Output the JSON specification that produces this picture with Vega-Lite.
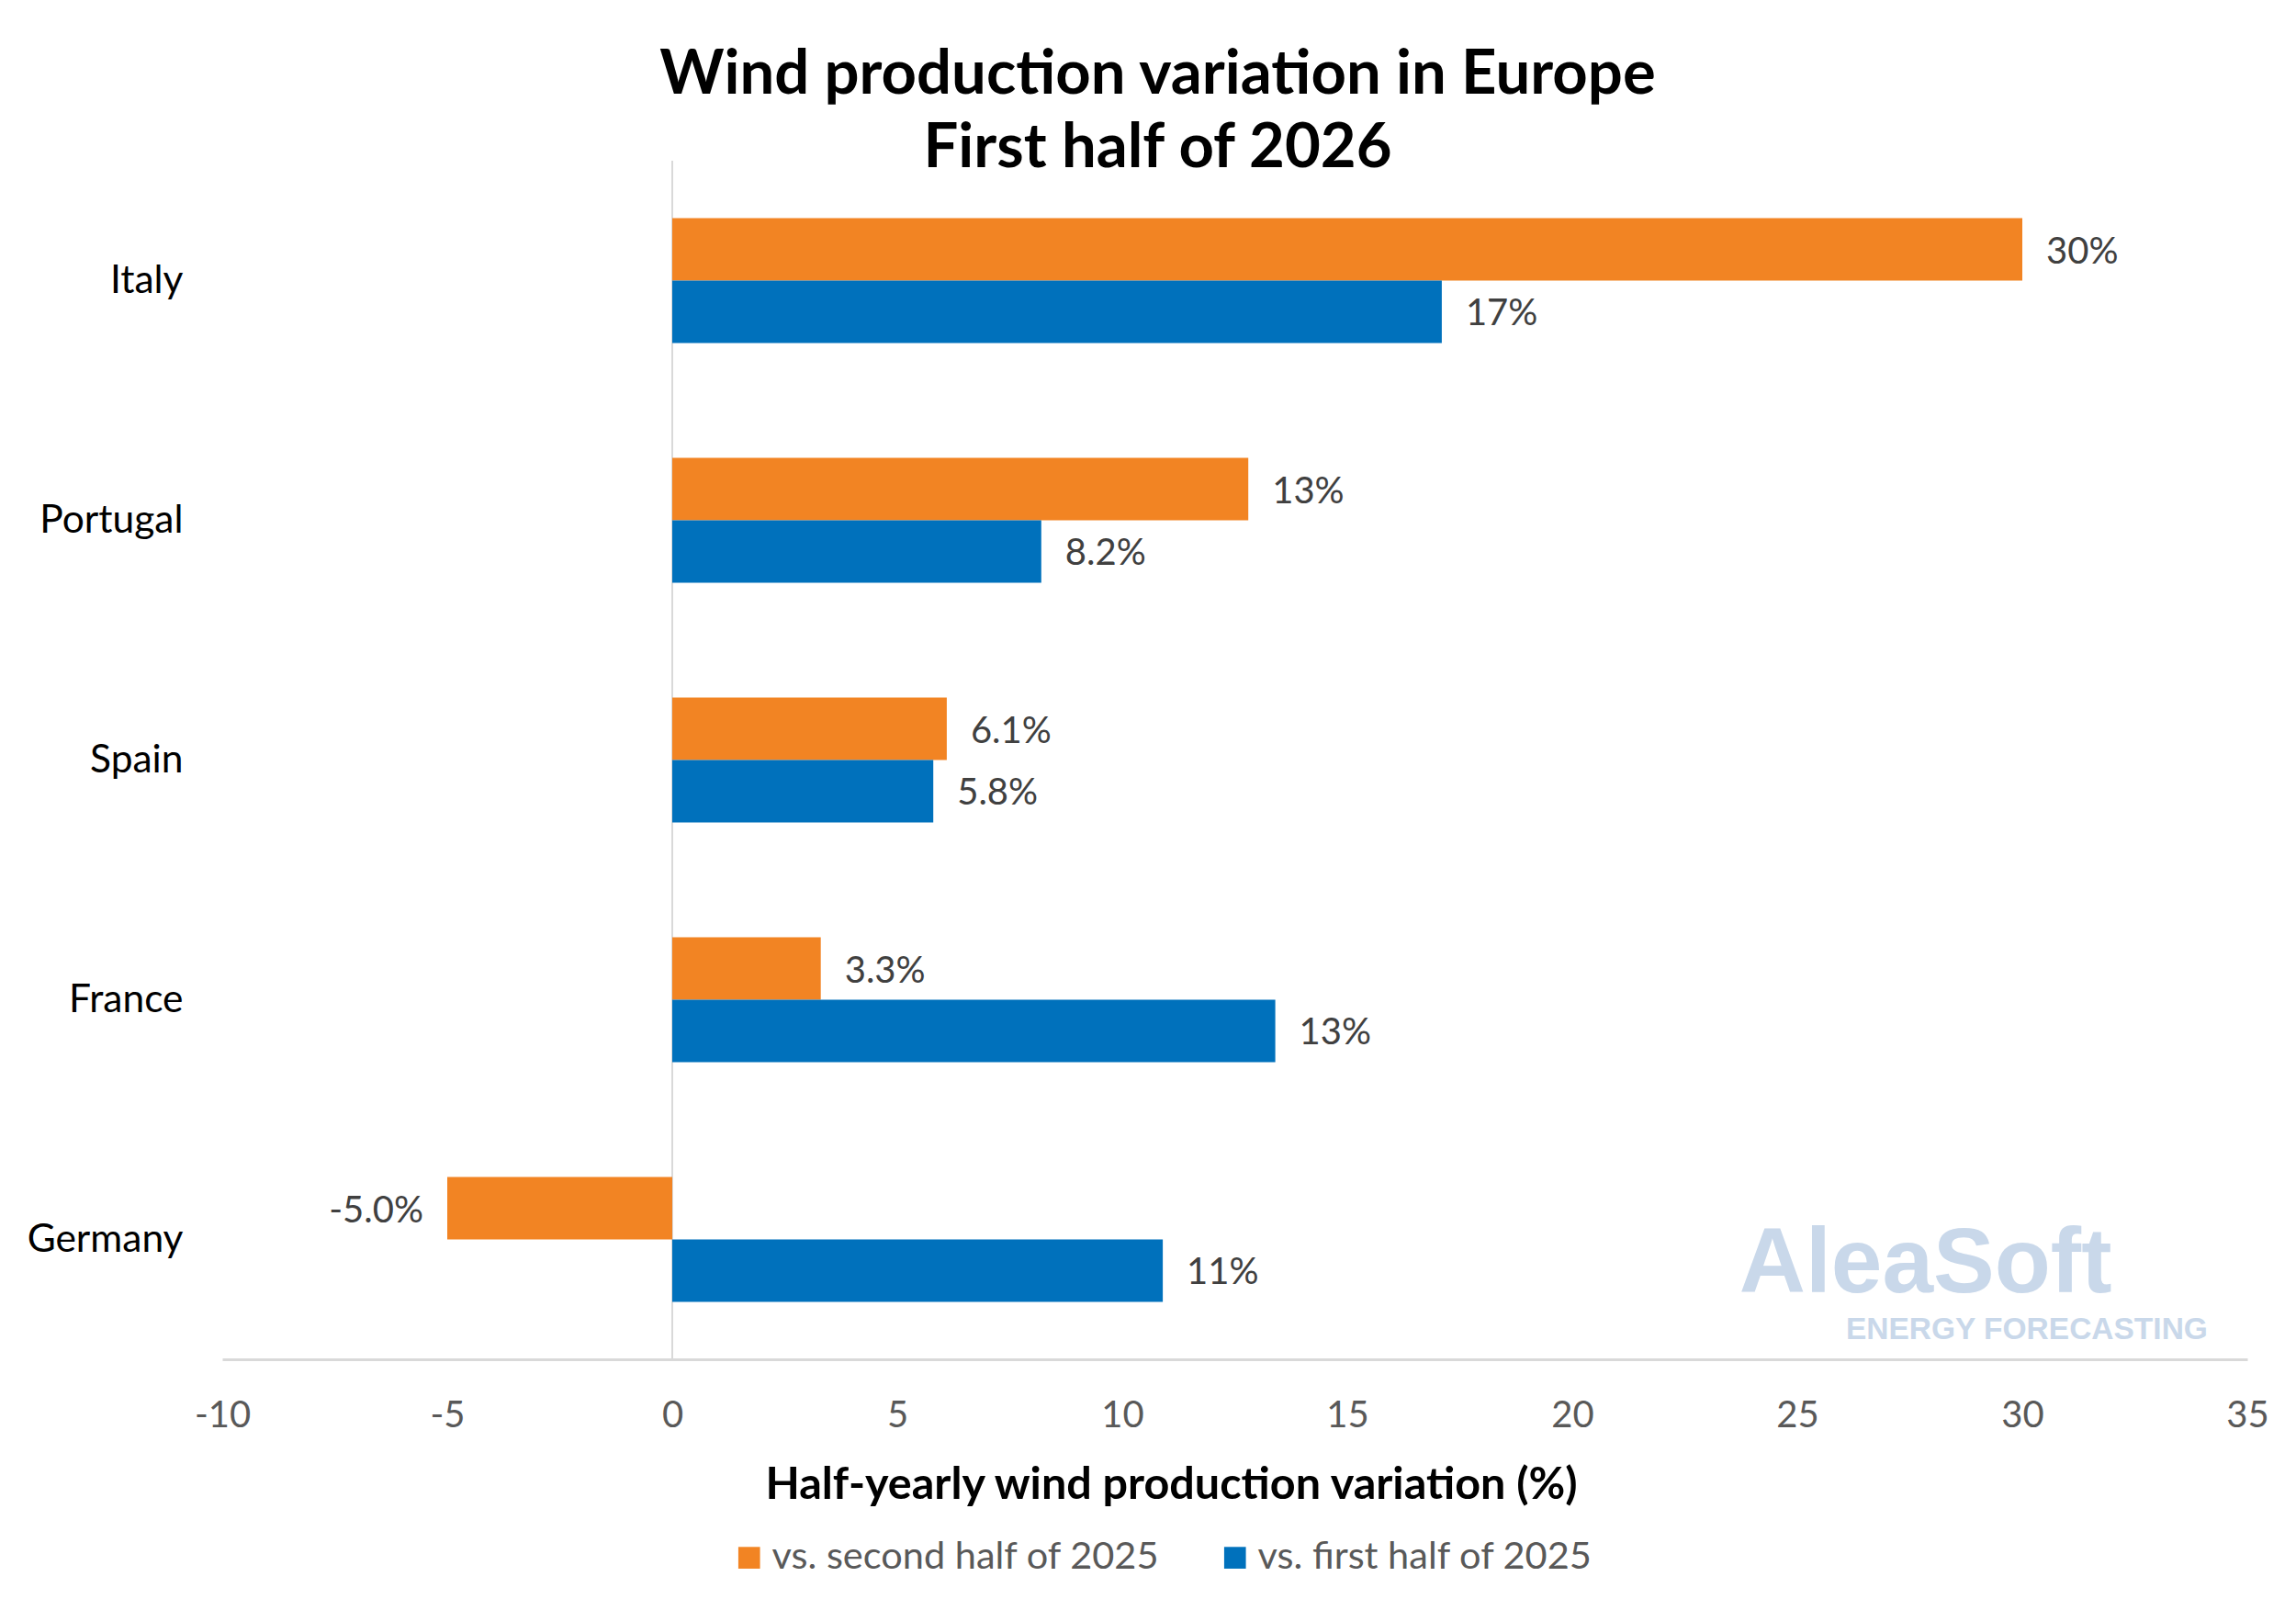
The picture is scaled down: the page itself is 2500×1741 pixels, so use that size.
{
  "$schema": "https://vega.github.io/schema/vega-lite/v6.json",
  "width": 2205,
  "height": 1305,
  "autosize": {"type": "none"},
  "padding": {"left": 242, "top": 175, "right": 53, "bottom": 261},
  "background": "white",
  "title": {
    "text": ["Wind production variation in Europe", "First half of 2026"],
    "font": "Lato",
    "fontSize": 67,
    "fontWeight": "bold",
    "color": "#000000",
    "lineHeight": 80,
    "anchor": "middle",
    "frame": "group",
    "dx": -84,
    "offset": -22
  },
  "data": {
    "values": [
      {"country": "Italy", "series": "vs. second half of 2025", "change": 30.0},
      {"country": "Italy", "series": "vs. first half of 2025", "change": 17.1},
      {"country": "Portugal", "series": "vs. second half of 2025", "change": 12.8},
      {"country": "Portugal", "series": "vs. first half of 2025", "change": 8.2},
      {"country": "Spain", "series": "vs. second half of 2025", "change": 6.1},
      {"country": "Spain", "series": "vs. first half of 2025", "change": 5.8},
      {"country": "France", "series": "vs. second half of 2025", "change": 3.3},
      {"country": "France", "series": "vs. first half of 2025", "change": 13.4},
      {"country": "Germany", "series": "vs. second half of 2025", "change": -5.0},
      {"country": "Germany", "series": "vs. first half of 2025", "change": 10.9}
    ]
  },
  "transform": [
    {"calculate": "replace(format(datum.change, '.2r'), '\u2212', '-') + '%'", "as": "label"}
  ],
  "layer": [
    {
      "mark": {"type": "rule", "color": "#d9d9d9", "strokeWidth": 2},
      "encoding": {"x": {"datum": 0, "type": "quantitative"}}
    },
    {
      "mark": {"type": "bar"},
      "encoding": {
        "y": {
          "field": "country",
          "type": "nominal",
          "sort": ["Italy", "Portugal", "Spain", "France", "Germany"],
          "scale": {"paddingInner": 0.479, "paddingOuter": 0.2395},
          "axis": {
            "title": null,
            "domain": false,
            "ticks": false,
            "tickSize": 0,
            "labelFont": "Lato",
            "labelFontSize": 42.5,
            "labelColor": "#000000",
            "labelPadding": 43
          }
        },
        "yOffset": {
          "field": "series",
          "type": "nominal",
          "sort": ["vs. second half of 2025", "vs. first half of 2025"],
          "scale": {"paddingInner": 0, "paddingOuter": 0}
        },
        "x": {
          "field": "change",
          "type": "quantitative",
          "scale": {"domain": [-10, 35], "nice": false, "zero": false},
          "axis": {
            "values": [-10, -5, 0, 5, 10, 15, 20, 25, 30, 35],
            "labelExpr": "replace(datum.label, '\u2212', '-')",
            "grid": false,
            "ticks": false,
            "tickSize": 0,
            "domainColor": "#d9d9d9",
            "domainWidth": 3,
            "labelFont": "Lato",
            "labelFontSize": 40,
            "labelColor": "#595959",
            "labelBaseline": "middle",
            "labelPadding": 61,
            "labelFlush": false,
            "title": "Half-yearly wind production variation (%)",
            "titleFont": "Lato",
            "titleFontSize": 48.5,
            "titleFontWeight": "bold",
            "titleColor": "#000000",
            "titleAnchor": null,
            "titleAlign": "center",
            "titleBaseline": "middle",
            "titleX": 1033,
            "titleY": 136
          }
        },
        "color": {
          "field": "series",
          "type": "nominal",
          "sort": ["vs. second half of 2025", "vs. first half of 2025"],
          "scale": {
            "domain": ["vs. second half of 2025", "vs. first half of 2025"],
            "range": ["#F28423", "#0071BC"]
          },
          "legend": {
            "title": null,
            "orient": "none",
            "direction": "horizontal",
            "legendX": 553,
            "legendY": 1500,
            "symbolType": "square",
            "symbolSize": 560,
            "symbolStrokeWidth": 0,
            "symbolOpacity": 1,
            "labelFont": "Lato",
            "labelFontSize": 41.5,
            "labelColor": "#595959",
            "labelOffset": 4,
            "columnPadding": 60,
            "labelLimit": 1000
          }
        }
      }
    },
    {
      "transform": [{"filter": "datum.change >= 0"}],
      "mark": {"type": "text", "align": "left", "baseline": "middle", "dx": 26, "dy": 3, "font": "Lato", "fontSize": 40, "color": "#404040"},
      "encoding": {
        "y": {"field": "country", "type": "nominal", "sort": ["Italy", "Portugal", "Spain", "France", "Germany"]},
        "yOffset": {"field": "series", "type": "nominal", "sort": ["vs. second half of 2025", "vs. first half of 2025"]},
        "x": {"field": "change", "type": "quantitative"},
        "text": {"field": "label"}
      }
    },
    {
      "transform": [{"filter": "datum.change < 0"}],
      "mark": {"type": "text", "align": "right", "baseline": "middle", "dx": -26, "dy": 3, "font": "Lato", "fontSize": 40, "color": "#404040"},
      "encoding": {
        "y": {"field": "country", "type": "nominal", "sort": ["Italy", "Portugal", "Spain", "France", "Germany"]},
        "yOffset": {"field": "series", "type": "nominal", "sort": ["vs. second half of 2025", "vs. first half of 2025"]},
        "x": {"field": "change", "type": "quantitative"},
        "text": {"field": "label"}
      }
    },
    {
      "data": {"values": [{"brand": "AleaSoft", "tagline": "ENERGY FORECASTING"}]},
      "layer": [
        {
          "mark": {"type": "text", "align": "center", "baseline": "alphabetic", "dy": 57, "font": "Liberation Sans", "fontSize": 100, "fontWeight": "bold", "color": "#c9d8ea"},
          "encoding": {
            "x": {"datum": 27.85, "type": "quantitative"},
            "y": {"datum": "Germany", "type": "nominal"},
            "text": {"field": "brand"}
          }
        },
        {
          "mark": {"type": "text", "align": "center", "baseline": "alphabetic", "dy": 108, "font": "Liberation Sans", "fontSize": 33.5, "fontWeight": "bold", "color": "#c9d8ea"},
          "encoding": {
            "x": {"datum": 30.1, "type": "quantitative"},
            "y": {"datum": "Germany", "type": "nominal"},
            "text": {"field": "tagline"}
          }
        }
      ]
    }
  ],
  "config": {
    "view": {"stroke": null}
  }
}
